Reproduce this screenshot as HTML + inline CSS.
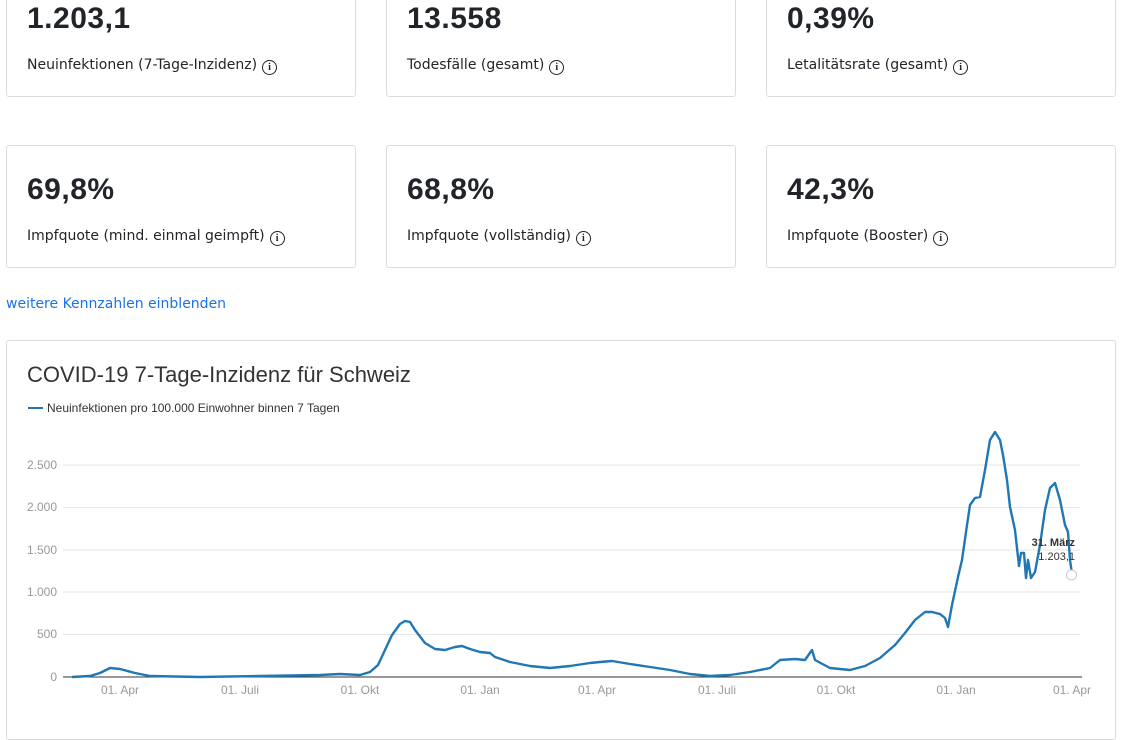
<!DOCTYPE html>
<html><head><meta charset="utf-8"><style>
body{margin:0;width:1124px;height:709px;overflow:hidden;background:#fff;font-family:"Liberation Sans",sans-serif;position:relative}
.card{position:absolute;border:1px solid #dcdcdc;border-radius:3px;background:#fff;box-sizing:border-box}
.num{position:absolute;left:20px;font-size:30px;font-weight:bold;color:#212529;letter-spacing:0.5px}
.lab{position:absolute;left:20px;color:#212529;font-family:"DejaVu Sans","Liberation Sans",sans-serif;font-size:14px;line-height:18px}
.i{display:inline-block;width:13px;height:13px;border:1.6px solid #222;border-radius:50%;font-size:10px;line-height:13px;text-align:center;font-weight:bold;vertical-align:-1px;margin-left:5px;font-family:"Liberation Serif",serif}
</style></head><body>
<div class="card" style="left:6px;top:-10px;width:350px;height:107px"><div class="num" style="top:11px">1.203,1</div><div class="lab" style="top:65px">Neuinfektionen (7-Tage-Inzidenz)<span class="i">i</span></div></div>
<div class="card" style="left:386px;top:-10px;width:350px;height:107px"><div class="num" style="top:11px">13.558</div><div class="lab" style="top:65px">Todesfälle (gesamt)<span class="i">i</span></div></div>
<div class="card" style="left:766px;top:-10px;width:350px;height:107px"><div class="num" style="top:11px">0,39%</div><div class="lab" style="top:65px">Letalitätsrate (gesamt)<span class="i">i</span></div></div>
<div class="card" style="left:6px;top:145px;width:350px;height:123px"><div class="num" style="top:27px">69,8%</div><div class="lab" style="top:81px">Impfquote (mind. einmal geimpft)<span class="i">i</span></div></div>
<div class="card" style="left:386px;top:145px;width:350px;height:123px"><div class="num" style="top:27px">68,8%</div><div class="lab" style="top:81px">Impfquote (vollständig)<span class="i">i</span></div></div>
<div class="card" style="left:766px;top:145px;width:350px;height:123px"><div class="num" style="top:27px">42,3%</div><div class="lab" style="top:81px">Impfquote (Booster)<span class="i">i</span></div></div>
<div style="position:absolute;left:6px;top:296px;font-size:14px;color:#1a73e8;font-family:'DejaVu Sans',sans-serif">weitere Kennzahlen einblenden</div>
<div class="card" style="left:6px;top:340px;width:1110px;height:400px"></div>
<svg width="1124" height="709" style="position:absolute;left:0;top:0" font-family="Liberation Sans, sans-serif">
<text x="27" y="382" font-size="22" fill="#333">COVID-19 7-Tage-Inzidenz für Schweiz</text>
<line x1="28" y1="408" x2="43" y2="408" stroke="#1f77b4" stroke-width="2"/>
<text x="47" y="412" font-size="12" fill="#333">Neuinfektionen pro 100.000 Einwohner binnen 7 Tagen</text>
<g stroke="#e6e6e6"><line x1="63" y1="465" x2="1080" y2="465"/><line x1="63" y1="507.5" x2="1080" y2="507.5"/><line x1="63" y1="550" x2="1080" y2="550"/><line x1="63" y1="592" x2="1080" y2="592"/><line x1="63" y1="634.5" x2="1080" y2="634.5"/></g>
<line x1="63" y1="677" x2="1082" y2="677" stroke="#333"/>
<g font-size="12" fill="#999" text-anchor="end"><text x="57" y="469">2.500</text><text x="57" y="511">2.000</text><text x="57" y="554">1.500</text><text x="57" y="596">1.000</text><text x="57" y="638">500</text><text x="57" y="681">0</text></g>
<g font-size="12" fill="#999" text-anchor="middle"><text x="120" y="694">01. Apr</text><text x="240" y="694">01. Juli</text><text x="360" y="694">01. Okt</text><text x="480" y="694">01. Jan</text><text x="597" y="694">01. Apr</text><text x="717" y="694">01. Juli</text><text x="836" y="694">01. Okt</text><text x="956" y="694">01. Jan</text><text x="1072" y="694">01. Apr</text></g>
<polyline fill="none" stroke="#1f77b4" stroke-width="2.4" stroke-linejoin="round" points="72,677 90,676 100,673 110,668 120,669 135,673 150,676 200,677 260,676 320,675 340,674 360,675 370,672 378,665 385,650 392,635 400,624 405,621 410,622 415,630 425,643 435,649 445,650 455,647 462,646 470,649 480,652 490,653 495,657 510,662 530,666 550,668 570,666 590,663 600,662 612,661 630,664 650,667 670,670 690,674 710,676 730,675 750,672 770,668 780,660 795,659 805,660 812,650 815,660 830,668 850,670 865,666 880,658 895,645 905,633 915,620 925,612 932,612 940,614 945,618 948,627 952,605 958,577 962,560 966,532 970,505 975,498 980,497 985,470 990,440 995,432 1000,440 1003,455 1007,480 1010,507 1015,530 1019,566 1021,553 1024,553 1026,578 1028,560 1031,578 1035,572 1040,545 1045,510 1050,488 1055,483 1060,500 1065,525 1068,532 1070,560 1072,574"/>
<circle cx="1071.5" cy="575" r="5" fill="#fff" stroke="#ccc"/>
<text x="1075" y="546" font-size="11" font-weight="bold" fill="#333" text-anchor="end">31. März</text>
<text x="1075" y="560" font-size="11" fill="#333" text-anchor="end">1.203,1</text>
</svg>
</body></html>
